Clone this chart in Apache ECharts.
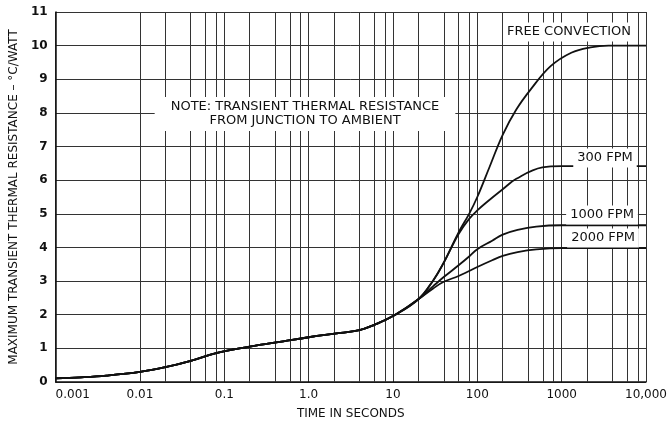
<!DOCTYPE html>
<html>
<head>
<meta charset="utf-8">
<script src="https://cdn.jsdelivr.net/npm/echarts@6/dist/echarts.min.js"></script>
<style>
  html, body { margin: 0; padding: 0; background: #fff; }
  #chart { width: 672px; height: 425px; }
</style>
</head>
<body>
<div id="chart"></div>
<script>
// shared part of all four curves (t in seconds, R in degC/W)
const baseTime  = [0.001, 0.002, 0.004, 0.01, 0.02, 0.04, 0.08, 0.2, 0.5, 1, 2.4, 4, 6, 10, 20];
const baseValue = [0.11, 0.14, 0.19, 0.3, 0.44, 0.63, 0.86, 1.05, 1.21, 1.33, 1.46, 1.54, 1.7, 1.96, 2.46];

// branches after the split
const freeTime  = [30, 40, 60, 80, 100, 140, 200, 290, 430, 740, 1300, 2200, 3600, 10000];
const freeValue = [3.02, 3.55, 4.45, 5.0, 5.5, 6.4, 7.35, 8.1, 8.7, 9.39, 9.79, 9.95, 10.0, 10.0];

const fpm300Time  = [30, 40, 60, 80, 100, 130, 200, 290, 590, 1000, 10000];
const fpm300Value = [3.02, 3.55, 4.4, 4.85, 5.1, 5.35, 5.73, 6.04, 6.38, 6.42, 6.42];

const fpm1000Time  = [30, 40, 60, 80, 100, 150, 200, 300, 500, 1000, 10000];
const fpm1000Value = [2.85, 3.12, 3.47, 3.73, 3.95, 4.2, 4.38, 4.52, 4.62, 4.66, 4.66];

const fpm2000Time  = [30, 40, 60, 80, 100, 150, 200, 300, 500, 1000, 10000];
const fpm2000Value = [2.78, 2.98, 3.15, 3.3, 3.42, 3.62, 3.75, 3.86, 3.94, 3.98, 3.98];

const xTickLabels = {'0.001': '0.001', '0.01': '0.01', '0.1': '0.1', '1': '1.0', '10': '10',
                     '100': '100', '1000': '1000', '10000': '10,000'};
const yTicks = [0, 1, 2, 3, 4, 5, 6, 7, 8, 9, 10, 11];

// intermediate grid lines inside every decade
const minorSteps = [2, 4, 6, 8];
const decades = [0.001, 0.01, 0.1, 1, 10, 100, 1000];

const chart = echarts.init(document.getElementById('chart'), null, { renderer: 'canvas' });

const ink = '#111';
const gridInk = '#333';
const font = 'DejaVu Sans';

function pairs(t1, v1, t2, v2) {
  const out = [];
  for (let i = 0; i < t1.length; i++) out.push([t1[i], v1[i]]);
  for (let i = 0; i < t2.length; i++) out.push([t2[i], v2[i]]);
  return out;
}

let minorLines = [];
decades.forEach(d => minorSteps.forEach(m => minorLines.push({ xAxis: d * m })));

function curve(name, data, extra) {
  return Object.assign({
    name: name,
    type: 'line',
    data: data,
    showSymbol: false,
    smooth: 0.4,
    lineStyle: { color: ink, width: 1.8 },
    z: 3
  }, extra || {});
}

function tag(text, x, y) {
  return {
    type: 'text', x: x, y: y, z: 100,
    style: {
      text: text, fill: ink, font: '13px "' + font + '"',
      align: 'center', verticalAlign: 'middle',
      backgroundColor: '#fff', padding: [3, 4]
    }
  };
}

const option = {
  animation: false,
  backgroundColor: '#fff',
  grid: { left: 52, right: 26, top: 12, bottom: 42 },
  xAxis: {
    type: 'log',
    logBase: 10,
    min: 0.001,
    max: 10000,
    interval: 1,
    name: 'TIME IN SECONDS',
    nameLocation: 'middle',
    nameGap: 26,
    nameTextStyle: { color: ink, fontFamily: font, fontSize: 12 },
    axisLine: { lineStyle: { color: ink, width: 1.5 } },
    axisTick: { show: false },
    axisLabel: {
      color: ink, fontFamily: font, fontSize: 12, margin: 7,
      alignMinLabel: 'left',
      formatter: v => xTickLabels[String(+v.toPrecision(6))] || ''
    },
    splitLine: { show: true, lineStyle: { color: gridInk, width: 1 } }
  },
  yAxis: {
    type: 'value',
    min: 0,
    max: 11,
    interval: 1,
    name: 'MAXIMUM TRANSIENT THERMAL RESISTANCE – °C/WATT',
    nameLocation: 'middle',
    nameGap: 33,
    nameTextStyle: { color: ink, fontFamily: font, fontSize: 12 },
    axisLine: { show: true, lineStyle: { color: ink, width: 1.5 } },
    axisTick: { show: false },
    axisLabel: {
      color: ink, fontFamily: font, fontSize: 12, fontWeight: 'bold', margin: 8,
      formatter: v => yTicks.indexOf(v) >= 0 ? String(v) : ''
    },
    splitLine: { show: true, lineStyle: { color: gridInk, width: 1 } }
  },
  series: [
    curve('2000 FPM', pairs(baseTime, baseValue, fpm2000Time, fpm2000Value), {
      markLine: {
        silent: true,
        symbol: 'none',
        label: { show: false },
        lineStyle: { color: gridInk, width: 1, type: 'solid' },
        data: minorLines,
        z: 1
      }
    }),
    curve('1000 FPM', pairs(baseTime, baseValue, fpm1000Time, fpm1000Value)),
    curve('300 FPM', pairs(baseTime, baseValue, fpm300Time, fpm300Value)),
    curve('FREE CONVECTION', pairs(baseTime, baseValue, freeTime, freeValue))
  ],
  graphic: [
    {
      type: 'text', x: 305, y: 114, z: 100,
      style: {
        text: 'NOTE: TRANSIENT THERMAL RESISTANCE\nFROM JUNCTION TO AMBIENT',
        fill: ink, font: '13px "' + font + '"', lineHeight: 14,
        align: 'center', verticalAlign: 'middle',
        backgroundColor: '#fff', padding: [3, 16]
      }
    },
    tag('FREE CONVECTION', 569, 32),
    tag('300 FPM', 605, 158),
    tag('1000 FPM', 602, 215),
    tag('2000 FPM', 603, 238)
  ]
};

chart.setOption(option);
</script>
</body>
</html>
